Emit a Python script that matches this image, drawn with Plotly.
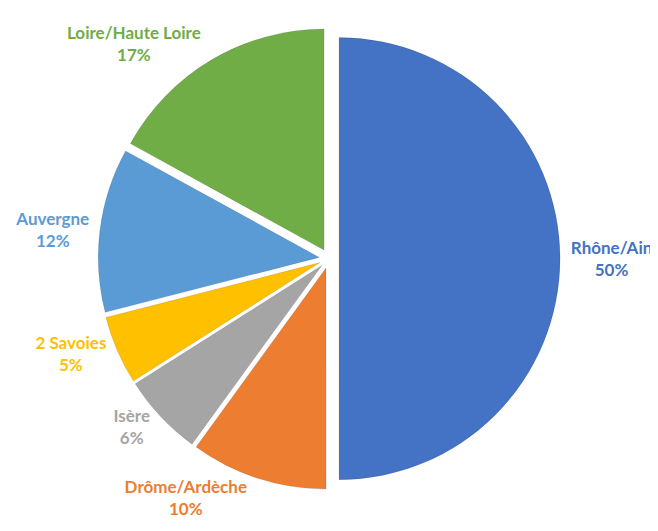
import plotly.graph_objects as go

labels = ["Rhône/Ain", "Drôme/Ardèche", "Isère", "2 Savoies", "Auvergne", "Loire/Haute Loire"]
values = [50, 10, 6, 5, 12, 17]
colors = ["#4472C4", "#ED7D31", "#A5A5A5", "#FFC000", "#5B9BD5", "#70AD47"]

fig = go.Figure(go.Pie(
    labels=labels,
    values=values,
    sort=False,
    direction="clockwise",
    rotation=0,
    pull=[0.045] * len(values),
    marker=dict(colors=colors, line=dict(color="rgba(0,0,0,0.10)", width=1)),
    textposition="outside",
    texttemplate="<b>%{label}</b><br><b>%{percent:.0%}</b>",
    outsidetextfont=dict(family="Lato", size=17, color=colors),
    automargin=False,
    showlegend=False,
    domain=dict(x=[0.137, 0.839], y=[0.093, 0.963]),
    hoverinfo="skip",
))

fig.update_layout(
    width=658, height=531,
    margin=dict(l=0, r=0, t=0, b=0),
    paper_bgcolor="white",
    plot_bgcolor="white",
)

fig.write_html("out.html")
